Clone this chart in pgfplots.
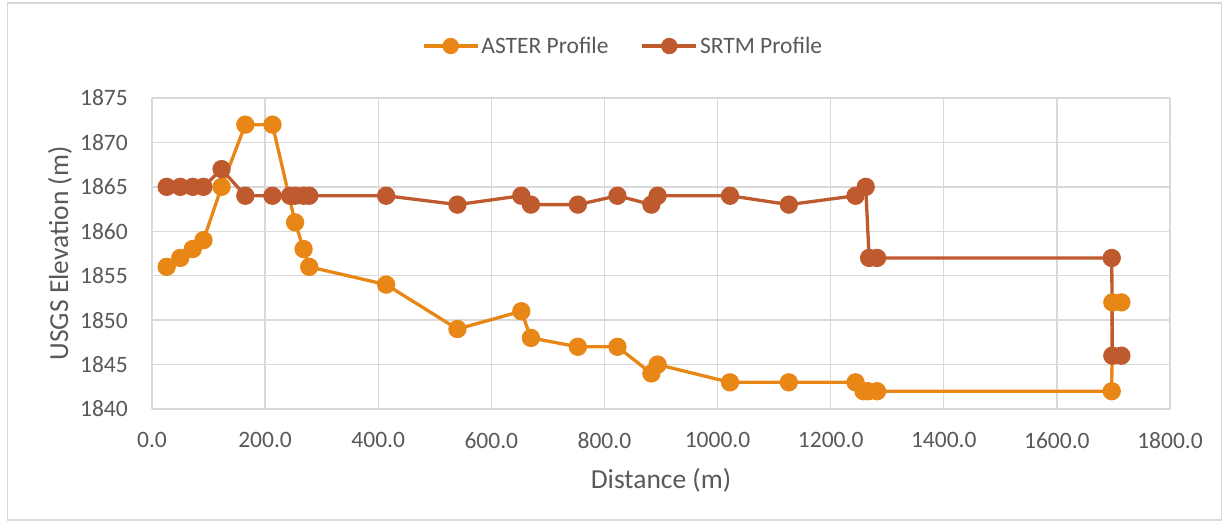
\documentclass[border=0pt]{standalone}
\usepackage{pgfplots}
\pgfplotsset{compat=1.18}
\usepackage{fontspec}
\setmainfont{Carlito}
\definecolor{asterc}{RGB}{232,134,22}
\definecolor{srtmc}{RGB}{190,90,45}
\definecolor{txt}{RGB}{89,89,89}
\definecolor{gridc}{RGB}{217,217,217}
\begin{document}
\begin{tikzpicture}[x=1pt,y=1pt]
\path[use as bounding box] (0,0) rectangle (1225,522);
\draw[gridc,line width=1.2pt] (7.5,2) rectangle (1221.5,519);
\begin{axis}[
  at={(152pt,113pt)}, anchor=south west,
  scale only axis, width=1018pt, height=311pt,
  xmin=0, xmax=1800, ymin=1840, ymax=1875,
  xtick={0,200,...,1800}, ytick={1840,1845,...,1875},
  grid=major, major grid style={gridc,line width=1.3pt},
  axis line style={draw=none},
  major tick length=0pt,
  /pgf/number format/assume math mode=true,
  xticklabel={\pgfmathprintnumber[fixed,fixed zerofill,precision=1,1000 sep={}]{\tick}},
  yticklabel={\pgfmathprintnumber[fixed,precision=0,1000 sep={}]{\tick}},
  xticklabel style={font=\fontsize{23.5}{27}\selectfont, text=txt, inner sep=0pt, anchor=north, yshift=-23pt},
  yticklabel style={font=\fontsize{23.5}{27}\selectfont, text=txt, inner sep=0pt, anchor=east, xshift=-24pt},
  xlabel={Distance (m)}, ylabel={USGS Elevation (m)},
  xlabel style={font=\fontsize{27.5}{32}\selectfont, text=txt, at={(axis description cs:0.5,-0.2283)}, anchor=center},
  ylabel style={font=\fontsize{27.5}{32}\selectfont, text=txt, at={(axis description cs:-0.0904,0.5)}, anchor=center, rotate=0},
  legend columns=2,
  legend style={at={(axis description cs:0.4627,1.167)}, anchor=center, draw=none, fill=none,
    font=\fontsize{23.5}{27}\selectfont, text=txt, /tikz/every even column/.append style={column sep=30pt}},
  legend image code/.code={\draw[#1,mark=none,line width=3.5pt] (0pt,0pt) -- (54pt,0pt); \fill[#1] (27pt,0pt) circle (6.5pt);},
]
\addplot[color=asterc, line width=3.3pt, mark=*, mark size=7.5pt, mark options={solid}] coordinates {
(26,1856) (50,1857) (72,1858) (91,1859) (123,1865) (165,1872) (213,1872)
(253,1861) (268,1858) (278,1856) (414,1854) (540,1849) (653,1851) (670,1848)
(753,1847) (823,1847) (883,1844) (894,1845) (1022,1843) (1126,1843) (1244,1843)
(1258,1842) (1266,1842) (1282,1842) (1697,1842) (1698,1852) (1714,1852)
};
\addlegendentry{ASTER Profile}
\addplot[color=srtmc, line width=3.3pt, mark=*, mark size=7.5pt, mark options={solid}] coordinates {
(26,1865) (50,1865) (72,1865) (91,1865) (123,1867) (165,1864) (213,1864)
(244,1864) (253,1864) (268,1864) (278,1864) (414,1864) (540,1863) (653,1864) (670,1863)
(753,1863) (823,1864) (883,1863) (894,1864) (1022,1864) (1126,1863) (1244,1864)
(1262,1865) (1268,1857) (1282,1857) (1697,1857) (1698,1846) (1714,1846)
};
\addlegendentry{SRTM Profile}
\end{axis}
\end{tikzpicture}
\end{document}
